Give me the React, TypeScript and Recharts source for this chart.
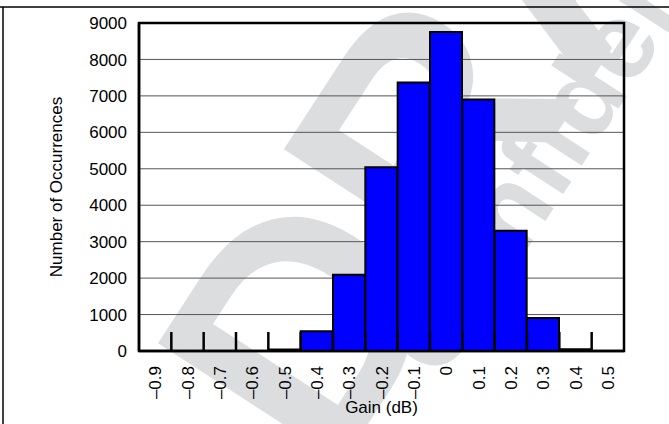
import React from 'react';
import { BarChart, Bar, XAxis, YAxis, CartesianGrid, ReferenceArea } from 'recharts';

// histogram bins (bin centres, dB) and counts
const gainBins = ['–0.9', '–0.8', '–0.7', '–0.6', '–0.5', '–0.4', '–0.3', '–0.2', '–0.1', '0', '0.1', '0.2', '0.3', '0.4', '0.5'];
const occurrences = [0, 0, 0, 0, 40, 540, 2090, 5040, 7370, 8750, 6900, 3300, 905, 50, 0];
const countTicks = [0, 1000, 2000, 3000, 4000, 5000, 6000, 7000, 8000, 9000];

const FONT = '"Liberation Sans", Arial, Helvetica, sans-serif';
const CHART_W = 669;
const CHART_H = 424;
const MARGIN = { top: 23, right: 45, bottom: 0, left: 0 };
const Y_AXIS_W = 139;
const X_AXIS_H = 73;
const BAND = (CHART_W - MARGIN.right - MARGIN.left - Y_AXIS_W) / gainBins.length;
const EDGE_TICK = 19;

const data = gainBins.map((bin, i) => ({ bin, count: occurrences[i] }));

// rotated bin label, plus the short upward tick at the bin's left edge
function BinTick(props: any) {
  const { x, y, payload, index } = props;
  const axisY = y - 15;
  const edgeX = x - BAND / 2;
  return (
    <g>
      {index > 0 && <line x1={edgeX} y1={axisY} x2={edgeX} y2={axisY - EDGE_TICK} stroke="#000" strokeWidth={2.5} />}
      <text
        x={x}
        y={y}
        dy="0.36em"
        transform={`rotate(-90 ${x} ${y})`}
        textAnchor="end"
        fontSize={17}
        fill="#000"
      >
        {payload.value}
      </text>
    </g>
  );
}

function CountTick(props: any) {
  const { x, y, payload } = props;
  return (
    <text x={x} y={y} dy="0.36em" textAnchor="end" fontSize={17} fill="#000">
      {payload.value}
    </text>
  );
}

function CountLabel(props: any) {
  const vb = props.viewBox || { x: 0, y: 23, height: 328 };
  const x = vb.x + 61.5;
  const y = vb.y + vb.height / 2;
  return (
    <text x={x} y={y} transform={`rotate(-90 ${x} ${y})`} textAnchor="middle" fontSize={17} fill="#000">
      Number of Occurrences
    </text>
  );
}

export default function App() {
  return (
    <div style={{ position: 'absolute', left: 0, top: 0, width: CHART_W, height: CHART_H, background: '#fff', fontFamily: FONT, overflow: 'hidden' }}>
      <svg width={CHART_W} height={CHART_H} style={{ position: 'absolute', left: 0, top: 0 }}>
        <g fill="#dcdddf" fontWeight="bold">
          <text x={331} y={481} fontSize={320} transform="rotate(-57 331 481)">DRAFT</text>
          <text x={441} y={382} fontSize={110} transform="rotate(-57 441 382)">Confidential</text>
        </g>
        <line x1={0} y1={7} x2={CHART_W} y2={7} stroke="#000" strokeWidth={1.5} />
        <line x1={3} y1={7} x2={3} y2={CHART_H} stroke="#000" strokeWidth={1.5} />
      </svg>
      <div style={{ position: 'absolute', left: 0, top: 0 }}>
        <BarChart
          width={CHART_W}
          height={CHART_H}
          data={data}
          margin={MARGIN}
          barCategoryGap={0}
          barGap={0}
        >
          <CartesianGrid horizontal vertical={false} stroke="#555" strokeWidth={1} />
          <XAxis
            dataKey="bin"
            height={X_AXIS_H}
            interval={0}
            axisLine={{ stroke: '#000', strokeWidth: 2.5 }}
            tickLine={false}
            tickSize={6}
            tickMargin={9}
            tick={<BinTick />}
            label={{ value: 'Gain (dB)', position: 'insideBottom', offset: 11, fill: '#000', fontSize: 17 }}
          />
          <YAxis
            width={Y_AXIS_W}
            domain={[0, 9000]}
            ticks={countTicks}
            interval={0}
            axisLine={{ stroke: '#000', strokeWidth: 2.5 }}
            tickLine={false}
            tickSize={6}
            tickMargin={6}
            tick={<CountTick />}
            label={<CountLabel />}
          />
          <Bar dataKey="count" fill="#0000ff" stroke="#000" strokeWidth={2} isAnimationActive={false} />
          <ReferenceArea
            x1={gainBins[0]}
            x2={gainBins[gainBins.length - 1]}
            y1={0}
            y2={9000}
            fill="none"
            fillOpacity={0}
            stroke="#000"
            strokeWidth={2.5}
            ifOverflow="visible"
          />
        </BarChart>
      </div>
    </div>
  );
}
